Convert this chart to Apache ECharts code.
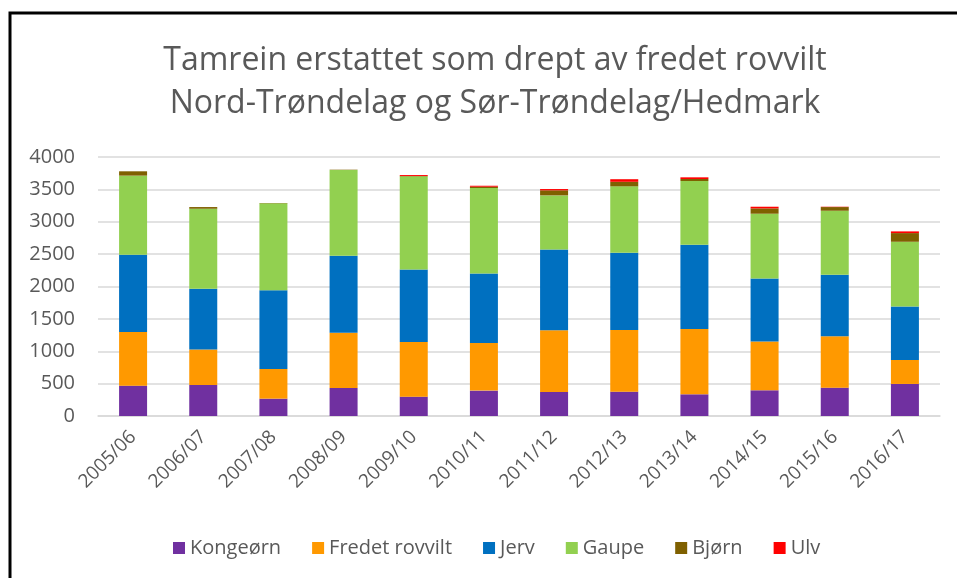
<!DOCTYPE html>
<html><head><meta charset="utf-8">
<script src="https://cdn.jsdelivr.net/npm/echarts@6/dist/echarts.min.js"></script>
<style>html,body{margin:0;padding:0;background:#fff}#c{width:957px;height:578px}</style>
</head><body><div id="c"></div>
<script>
const categories = ['2005/06','2006/07','2007/08','2008/09','2009/10','2010/11','2011/12','2012/13','2013/14','2014/15','2015/16','2016/17'];
const kongeorn = [469, 479, 268, 433, 299, 392, 371, 376, 335, 397, 438, 495];
const fredetRovvilt = [830, 547, 459, 851, 845, 737, 954, 954, 1010, 753, 794, 371];
const jerv = [1191, 938, 1216, 1190, 1119, 1072, 1247, 1191, 1300, 974, 949, 825];
const gaupe = [1222, 1237, 1341, 1325, 1438, 1320, 835, 1026, 984, 1000, 989, 1000];
const bjorn = [67, 26, 5, 5, 5, 20, 78, 70, 31, 82, 57, 134];
const ulv = [0, 0, 0, 0, 15, 15, 20, 40, 26, 26, 5, 26];
const yTicks = [0, 500, 1000, 1500, 2000, 2500, 3000, 3500, 4000];

const seriesDefs = [
  ['Kongeørn', kongeorn, '#7030a0'],
  ['Fredet rovvilt', fredetRovvilt, '#ff9900'],
  ['Jerv', jerv, '#0070c0'],
  ['Gaupe', gaupe, '#92d050'],
  ['Bjørn', bjorn, '#7f6000'],
  ['Ulv', ulv, '#ff0000']
];
const font = '"Open Sans", "Noto Sans", sans-serif';
const chart = echarts.init(document.getElementById('c'));
chart.setOption({
  animation: false,
  textStyle: {fontFamily: font},
  title: {
    text: 'Tamrein erstattet som drept av fredet rovvilt\nNord-Trøndelag og Sør-Trøndelag/Hedmark',
    left: 490, top: 34, textAlign: 'center',
    textStyle: {fontFamily: font, fontSize: 32, fontWeight: 400, color: '#595959', lineHeight: 43}
  },
  graphic: [{type: 'rect', shape: {x: 10, y: 13, width: 960, height: 580}, style: {fill: 'none', stroke: '#000', lineWidth: 3}, z: -1}],
  legend: {
    bottom: 15, left: 168, itemWidth: 12, itemHeight: 12, itemGap: 31,
    icon: 'rect',
    textStyle: {fontFamily: font, fontSize: 20, color: '#595959', padding: [0,0,0,0]},
    data: seriesDefs.map(s => s[0])
  },
  grid: {left: 98, right: 17, top: 157, bottom: 162, containLabel: false},
  xAxis: {
    type: 'category', data: categories,
    axisLine: {lineStyle: {color: '#d9d9d9', width: 1.5}},
    axisTick: {show: false},
    axisLabel: {rotate: 45, fontSize: 19, color: '#595959', margin: 18, fontFamily: font}
  },
  yAxis: {
    type: 'value', min: 0, max: 4000, interval: 500,
    axisLine: {show: false}, axisTick: {show: false},
    splitLine: {lineStyle: {color: '#d9d9d9', width: 1.5}},
    axisLabel: {fontSize: 20, color: '#595959', margin: 23, fontFamily: font, formatter: v => String(v)}
  },
  series: seriesDefs.map(s => ({
    name: s[0], type: 'bar', stack: 'a', data: s[1], barWidth: 28,
    itemStyle: {color: s[2]}
  }))
});
</script></body></html>
